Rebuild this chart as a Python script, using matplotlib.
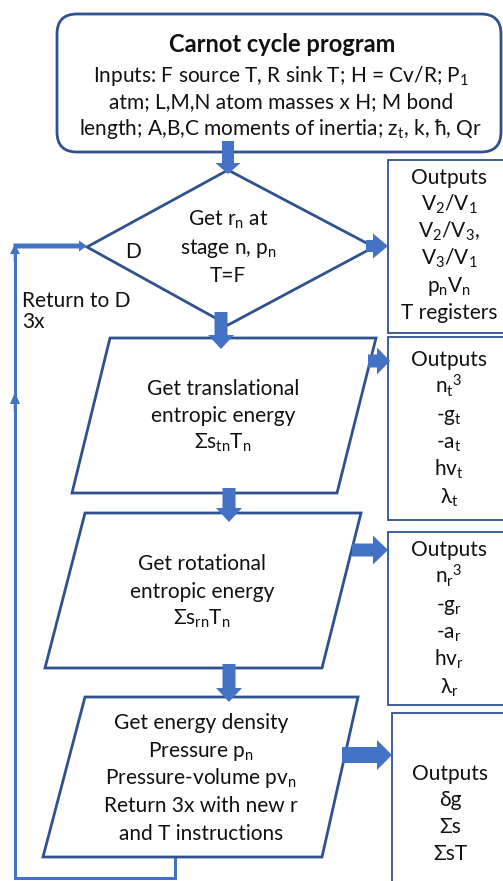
import matplotlib
matplotlib.use("Agg")
from matplotlib import pyplot as plt
from matplotlib.patches import FancyBboxPatch, Polygon, Rectangle, FancyArrow

plt.rcParams['font.family'] = ['Lato', 'DejaVu Sans']
plt.rcParams['mathtext.fontset'] = 'custom'
plt.rcParams['mathtext.rm'] = 'Lato'
plt.rcParams['mathtext.it'] = 'Lato:italic'
plt.rcParams['mathtext.bf'] = 'Lato:bold'

# text of the flowchart
title = "Carnot cycle program"
input_lines = [
    r"Inputs: F source T, R sink T; H = Cv/R; P$_\mathrm{1}$",
    "atm; L,M,N atom masses x H; M bond",
    r"length; A,B,C moments of inertia; z$_\mathrm{t}$, k, ħ, Qr",
]
diamond_lines = [r"Get r$_\mathrm{n}$ at", r"stage n, p$_\mathrm{n}$", "T=F"]
trans_lines = ["Get translational", "entropic energy",
               r"Σs$_\mathrm{tn}$T$_\mathrm{n}$"]
rot_lines = ["Get rotational", "entropic energy",
             r"Σs$_\mathrm{rn}$T$_\mathrm{n}$"]
energy_lines = ["Get energy density", r"Pressure p$_\mathrm{n}$",
                r"Pressure-volume pv$_\mathrm{n}$", "Return 3x with new r",
                "and T instructions"]
out_diamond = ["Outputs", r"V$_\mathrm{2}$/V$_\mathrm{1}$",
               r"V$_\mathrm{2}$/V$_\mathrm{3}$,", r"V$_\mathrm{3}$/V$_\mathrm{1}$",
               r"p$_\mathrm{n}$V$_\mathrm{n}$", "T registers"]
out_trans = ["Outputs", r"n$_\mathrm{t}$$^\mathrm{3}$", r"-g$_\mathrm{t}$",
             r"-a$_\mathrm{t}$", r"hv$_\mathrm{t}$", r"λ$_\mathrm{t}$"]
out_rot = ["Outputs", r"n$_\mathrm{r}$$^\mathrm{3}$", r"-g$_\mathrm{r}$",
           r"-a$_\mathrm{r}$", r"hv$_\mathrm{r}$", r"λ$_\mathrm{r}$"]
out_energy = ["Outputs", "δg", "Σs", "ΣsT"]
loop_label = ["Return to D", "3x"]

EDGE = '#2F528F'
FILL = '#4472C4'
FS = 15

fig = plt.figure(figsize=(5.03, 8.81), dpi=100)
ax = fig.add_axes([0, 0, 1, 1])
ax.set_xlim(0, 503)
ax.set_ylim(881, 0)
ax.axis('off')


def write(x, y0, lines, dy=27.5, ha='center', **kw):
    for i, s in enumerate(lines):
        ax.text(x, y0 + i * dy, s, ha=ha, va='baseline', fontsize=FS,
                color='#111111', **kw)


def block_arrow(x0, y0, x1, y1, w, hw, hl):
    ax.add_patch(FancyArrow(x0, y0, x1 - x0, y1 - y0, width=w, head_width=hw,
                            head_length=hl, length_includes_head=True,
                            color=FILL, lw=0, zorder=3))


def para(top, bottom, tl, tr, bl, br):
    ax.add_patch(Polygon([(tl, top), (tr, top), (br, bottom), (bl, bottom)],
                         closed=True, fc='white', ec=EDGE, lw=2.0, zorder=2))


# top rounded box
ax.add_patch(FancyBboxPatch((57, 14), 444, 138,
                            boxstyle="round,pad=0,rounding_size=20",
                            fc='white', ec=EDGE, lw=2.0, zorder=2))
ax.text(282, 52, title, ha='center', va='baseline', fontsize=17,
        fontweight='bold', color='#111111')
write(281, 82, input_lines, dy=26.5)

# diamond
ax.add_patch(Polygon([(228, 170), (374, 247), (228, 325), (87, 247)],
                     closed=True, fc='white', ec=EDGE, lw=2.0, zorder=2))
write(228, 226, diamond_lines, dy=28)
ax.text(133, 258, "D", ha='center', va='baseline', fontsize=FS, color='#111111')

# parallelograms
para(338, 493, 110, 376, 72, 337)
write(223, 395, trans_lines, dy=27)
para(513, 668, 85, 361, 45, 322)
write(202, 570, rot_lines, dy=27.5)
para(697, 857, 85, 358, 43, 322)
write(201, 729, energy_lines, dy=27.7)

# output boxes (right side runs off the canvas)
for (x, top, bot) in [(388, 160, 333), (388, 337, 520), (388, 532, 705), (392, 713, 900)]:
    ax.add_patch(Rectangle((x, top), 130, bot - top, fc='white', ec=EDGE,
                           lw=1.3, zorder=2))
write(449, 184, out_diamond, dy=27)
write(449, 366, out_trans, dy=27.5)
write(449, 556, out_rot, dy=27.5)
write(450, 780, out_energy, dy=26.5)

# vertical flow arrows
block_arrow(228, 141, 228, 174, 12, 25, 11)
block_arrow(221, 312, 221, 349, 13, 26, 14)
block_arrow(229, 488, 229, 522, 13, 26, 14)
block_arrow(229, 664, 229, 702, 13, 26, 14)

# arrows to outputs
block_arrow(366, 246, 388, 246, 12, 25, 15)
block_arrow(368, 361, 390, 361, 13, 27, 13)
block_arrow(352, 550, 388, 550, 13, 29, 15)
block_arrow(342, 755, 392, 755, 16, 30, 15)

# return loop
ax.plot([175, 175, 15, 15], [857, 878, 878, 252], color=FILL, lw=2.2,
        solid_joinstyle='miter', zorder=1)
block_arrow(13.5, 246, 87, 246, 5, 11, 8)
block_arrow(15, 262, 15, 244, 2.5, 10, 10)
block_arrow(15, 412, 15, 392, 2.5, 10, 12)
write(22, 307, loop_label, dy=21, ha='left')

fig.savefig('out.png', dpi=100)
